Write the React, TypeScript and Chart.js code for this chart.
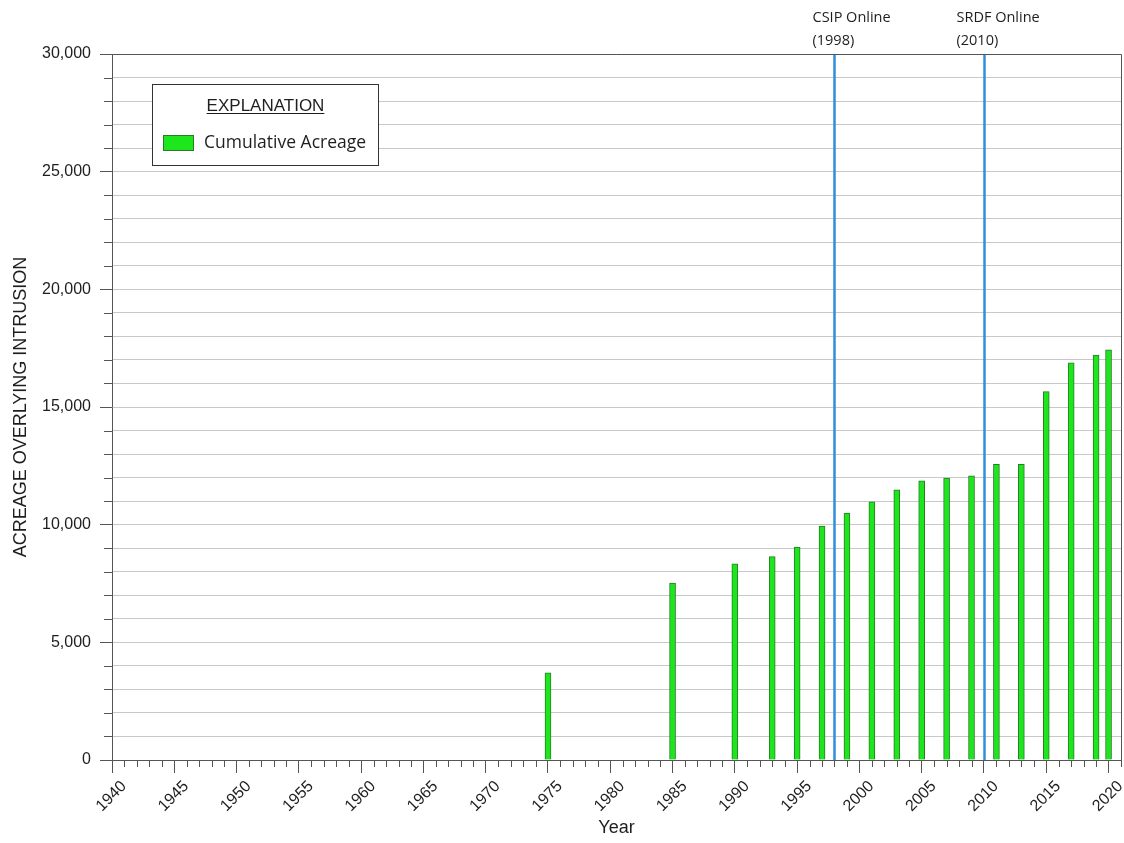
import React, { useEffect, useRef } from "react";
import { Chart, registerables } from "chart.js";

Chart.register(...registerables);

const years = [1975, 1985, 1990, 1993, 1995, 1997, 1999, 2001, 2003, 2005, 2007, 2009, 2011, 2013, 2015, 2017, 2019, 2020];
const acreage = [3700, 7520, 8340, 8640, 9050, 9940, 10490, 10970, 11480, 11860, 11980, 12080, 12560, 12560, 15650, 16880, 17210, 17430];
const seriesLabel = "Cumulative Acreage";
const legendTitle = "EXPLANATION";
const eventYears = [1998, 2010];
const eventLabels = [["CSIP Online", "(1998)"], ["SRDF Online", "(2010)"]];
const eventLabelShift = [-22, -28];
const xTitle = "Year";
const yTitle = "ACREAGE OVERLYING INTRUSION";

const AXIS_FONT = '"Liberation Sans", Arial, sans-serif';
const NOTE_FONT = '"Open Sans", "Noto Sans", sans-serif';
const AXIS_COLOR = "#555555";
const TEXT_COLOR = "#1e1e1e";
const BAR_FILL = "#1de61d";
const BAR_BORDER = "#2a7a2a";
const EVENT_COLOR = "#2f8fdb";

const decorPlugin = {
  id: "decor",
  afterDatasetsDraw(chart: any) {
    const { ctx, chartArea, scales } = chart;
    const x = scales.x;
    ctx.save();
    eventYears.forEach((yr, i) => {
      const px = Math.round(x.getPixelForValue(yr)) + 0.5;
      ctx.strokeStyle = EVENT_COLOR;
      ctx.lineWidth = 2.5;
      ctx.beginPath();
      ctx.moveTo(px, chartArea.top);
      ctx.lineTo(px, chartArea.bottom);
      ctx.stroke();
      ctx.fillStyle = TEXT_COLOR;
      ctx.font = `14.5px ${NOTE_FONT}`;
      ctx.textAlign = "left";
      ctx.textBaseline = "middle";
      eventLabels[i].forEach((t, j) => {
        ctx.fillText(t, px + eventLabelShift[i], 18 + j * 23);
      });
    });
    ctx.restore();
  },
  afterDraw(chart: any) {
    const { ctx, chartArea, scales } = chart;
    const x = scales.x;
    const y = scales.y;
    ctx.save();
    ctx.strokeStyle = AXIS_COLOR;
    ctx.lineWidth = 1;
    ctx.beginPath();
    ctx.moveTo(chartArea.left, Math.round(chartArea.top) + 0.5);
    ctx.lineTo(Math.round(chartArea.right) + 0.5, Math.round(chartArea.top) + 0.5);
    ctx.lineTo(Math.round(chartArea.right) + 0.5, chartArea.bottom);
    ctx.stroke();
    ctx.beginPath();
    x.ticks.forEach((t: any) => {
      if (t.value % 5 !== 0) {
        const px = Math.round(x.getPixelForValue(t.value)) + 0.5;
        ctx.moveTo(px, chartArea.bottom);
        ctx.lineTo(px, chartArea.bottom + 7);
      }
    });
    y.ticks.forEach((t: any) => {
      if (t.value % 5000 !== 0) {
        const py = Math.round(y.getPixelForValue(t.value)) + 0.5;
        ctx.moveTo(chartArea.left - 8, py);
        ctx.lineTo(chartArea.left, py);
      }
    });
    ctx.stroke();

    const bx = 152.5, by = 84.5, bw = 226, bh = 81;
    ctx.fillStyle = "#ffffff";
    ctx.fillRect(bx, by, bw, bh);
    ctx.strokeStyle = "#333333";
    ctx.lineWidth = 1;
    ctx.strokeRect(bx, by, bw, bh);
    ctx.fillStyle = TEXT_COLOR;
    ctx.font = `17px ${AXIS_FONT}`;
    ctx.textAlign = "center";
    ctx.textBaseline = "alphabetic";
    const cx = bx + bw / 2;
    ctx.fillText(legendTitle, cx, 111);
    const tw = ctx.measureText(legendTitle).width;
    ctx.strokeStyle = TEXT_COLOR;
    ctx.beginPath();
    ctx.moveTo(cx - tw / 2, 113.5);
    ctx.lineTo(cx + tw / 2, 113.5);
    ctx.stroke();
    const ds = chart.data.datasets[0];
    ctx.fillStyle = ds.backgroundColor;
    ctx.fillRect(163, 135, 30, 15);
    ctx.strokeStyle = ds.borderColor;
    ctx.strokeRect(163.5, 135.5, 30, 15);
    ctx.fillStyle = TEXT_COLOR;
    ctx.font = `17.5px ${NOTE_FONT}`;
    ctx.textAlign = "left";
    ctx.textBaseline = "middle";
    ctx.fillText(ds.label, 204, 143);
    ctx.restore();
  },
};

export default function App() {
  const canvasRef = useRef<HTMLCanvasElement | null>(null);

  useEffect(() => {
    const canvas = canvasRef.current;
    if (!canvas) return;
    const chart = new Chart(canvas, {
      type: "bar",
      data: {
        datasets: [
          {
            label: seriesLabel,
            data: years.map((yr, i) => ({ x: yr, y: acreage[i] })),
            backgroundColor: BAR_FILL,
            borderColor: BAR_BORDER,
            borderWidth: 1,
            barThickness: 6,
          } as any,
        ],
      },
      options: {
        responsive: false,
        animation: false,
        devicePixelRatio: 1,
        layout: { padding: { top: 54, right: 3, left: 0, bottom: 0 } },
        plugins: {
          legend: { display: false },
          tooltip: { enabled: false },
          title: { display: false },
        },
        scales: {
          x: {
            type: "linear",
            min: 1940,
            max: 2021,
            offset: false,
            grid: {
              offset: false,
              drawOnChartArea: false,
              drawTicks: true,
              tickLength: 13,
              tickColor: (c: any) => (c.tick && c.tick.value % 5 === 0 ? AXIS_COLOR : "rgba(0,0,0,0)"),
            },
            border: { color: AXIS_COLOR, width: 1 },
            ticks: {
              stepSize: 1,
              autoSkip: false,
              minRotation: 45,
              maxRotation: 45,
              padding: 4,
              labelOffset: 12,
              color: TEXT_COLOR,
              font: { family: AXIS_FONT, size: 16 },
              callback: (v: any) => (Number(v) % 5 === 0 ? String(v) : ""),
            },
            title: {
              display: true,
              text: xTitle,
              color: TEXT_COLOR,
              font: { family: AXIS_FONT, size: 18 },
              padding: { top: 0, bottom: 4 },
            },
            afterFit: (s: any) => {
              s.height = 83;
              s.paddingLeft = 0;
              s.paddingRight = 0;
            },
          } as any,
          y: {
            type: "linear",
            min: 0,
            max: 30000,
            grid: {
              color: "#c8c8c8",
              lineWidth: 1,
              tickLength: 12,
              tickColor: (c: any) => (c.tick && c.tick.value % 5000 === 0 ? AXIS_COLOR : "rgba(0,0,0,0)"),
            },
            border: { color: AXIS_COLOR, width: 1 },
            ticks: {
              stepSize: 1000,
              autoSkip: false,
              padding: 9,
              color: TEXT_COLOR,
              font: { family: AXIS_FONT, size: 16 },
              callback: (v: any) => (Number(v) % 5000 === 0 ? Number(v).toLocaleString("en-US") : ""),
            },
            title: {
              display: true,
              text: yTitle,
              color: TEXT_COLOR,
              font: { family: AXIS_FONT, size: 18 },
              padding: { top: 10, bottom: 0 },
            },
            afterFit: (s: any) => {
              s.width = 112;
            },
          } as any,
        },
      },
      plugins: [decorPlugin],
    });
    return () => chart.destroy();
  }, []);

  return (
    <div style={{ position: "fixed", left: 0, top: 0, width: 1124, height: 843, background: "#fff" }}>
      <canvas ref={canvasRef} width={1124} height={843} style={{ display: "block", width: 1124, height: 843 }} />
    </div>
  );
}
